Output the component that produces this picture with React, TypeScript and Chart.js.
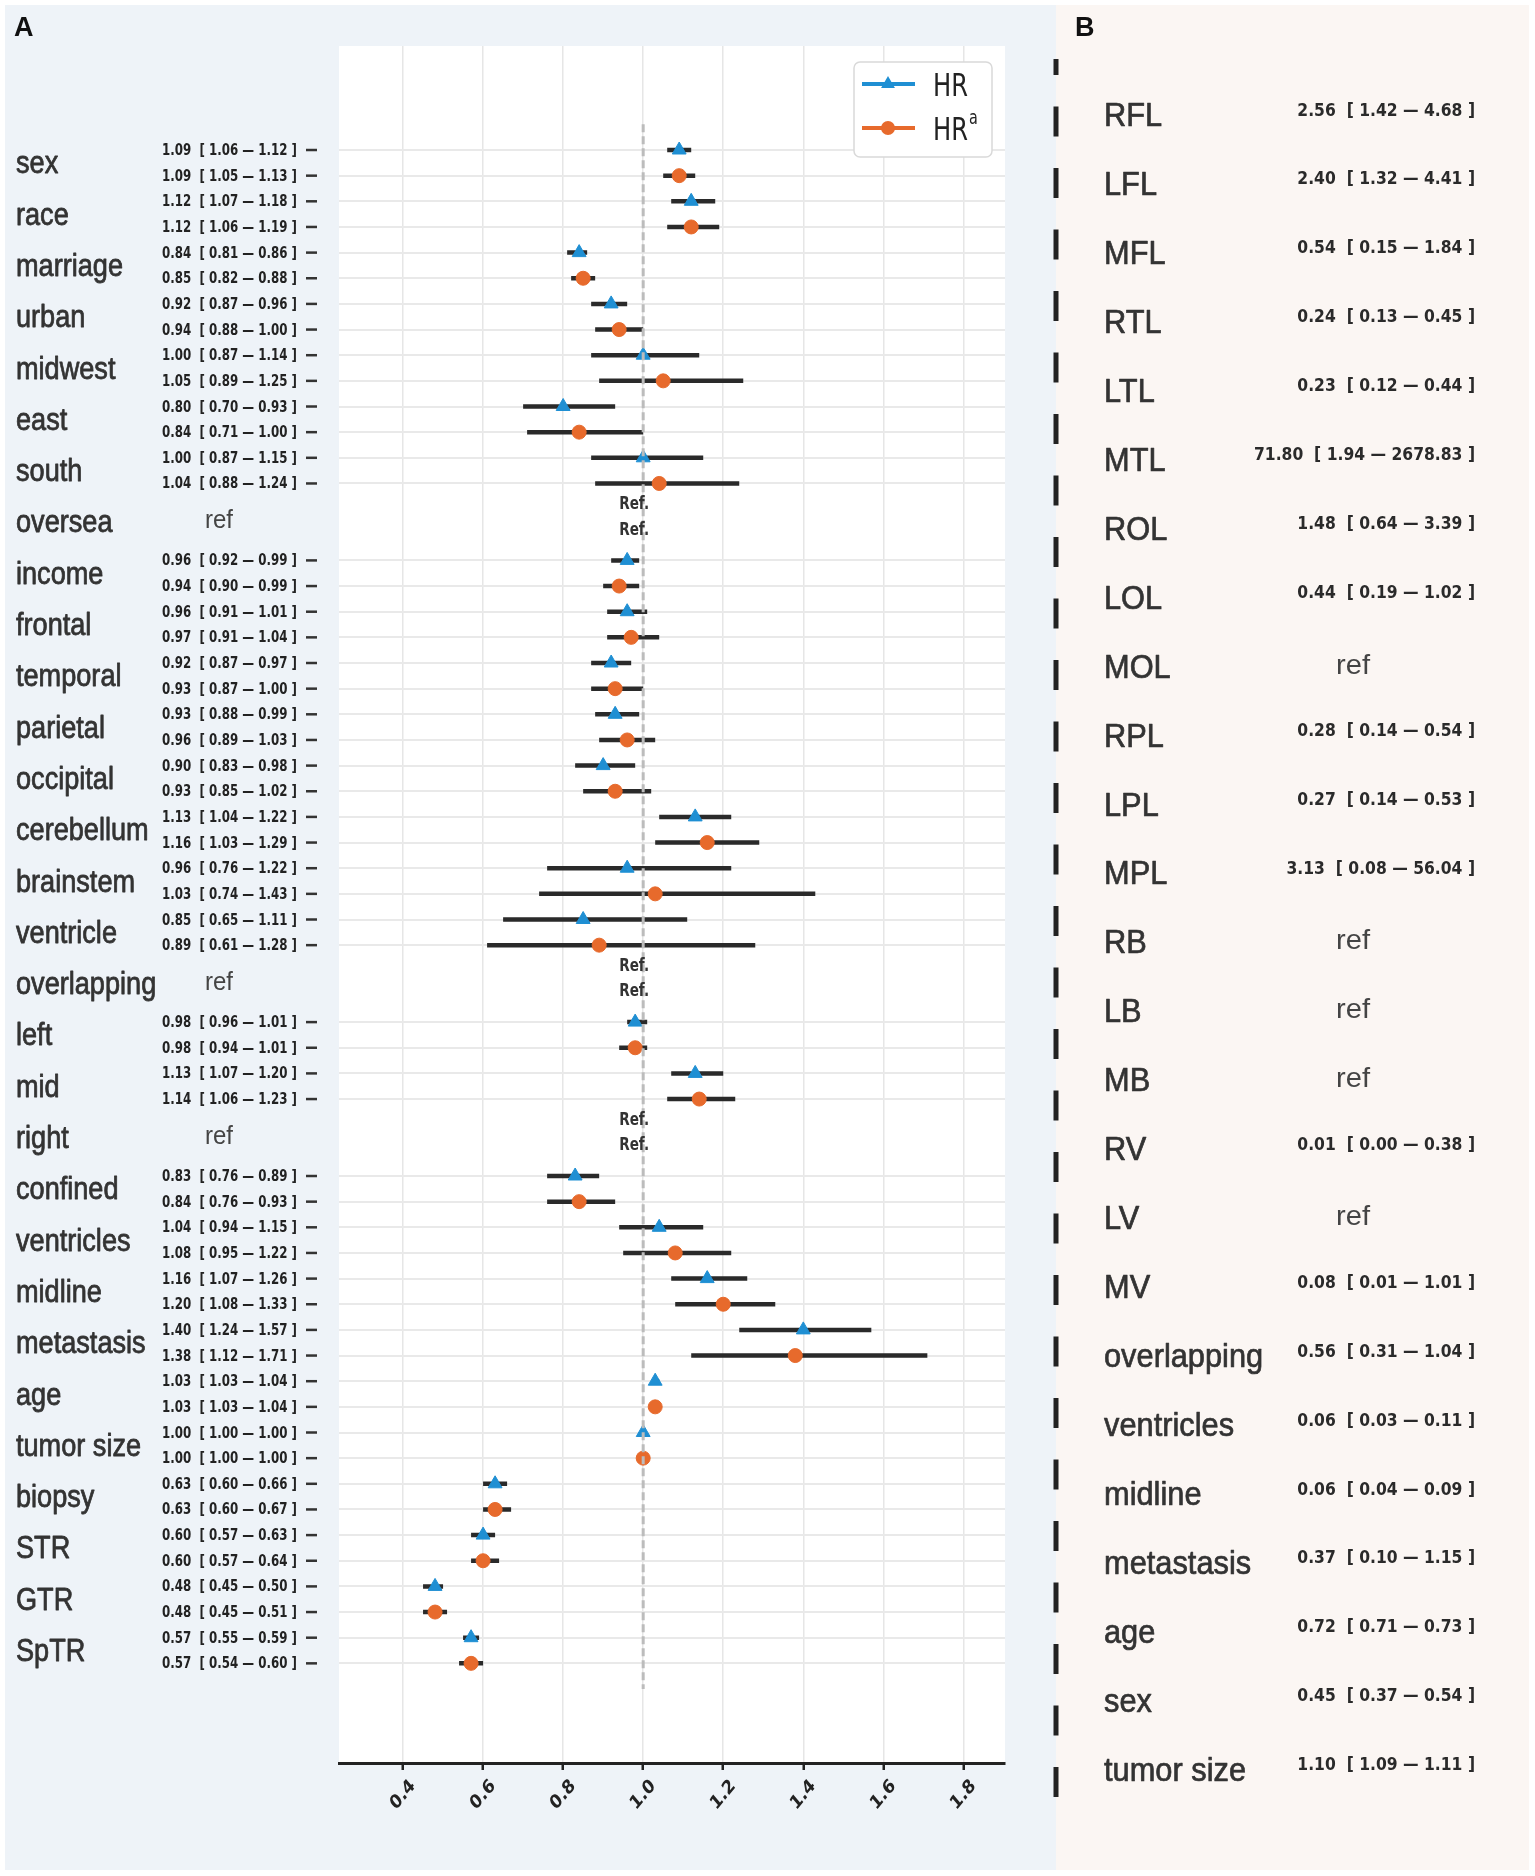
import React, { useEffect, useRef } from "react";
import { Chart, registerables } from "chart.js";
Chart.register(...registerables);

// ---------------- data: panel A ----------------
const GROUPS = ["sex", "race", "marriage", "urban", "midwest", "east", "south", "oversea", "income", "frontal", "temporal", "parietal", "occipital", "cerebellum", "brainstem", "ventricle", "overlapping", "left", "mid", "right", "confined", "ventricles", "midline", "metastasis", "age", "tumor size", "biopsy", "STR", "GTR", "SpTR"];
const HR = [1.09, 1.12, 0.84, 0.92, 1.0, 0.8, 1.0, null, 0.96, 0.96, 0.92, 0.93, 0.9, 1.13, 0.96, 0.85, null, 0.98, 1.13, null, 0.83, 1.04, 1.16, 1.4, 1.03, 1.0, 0.63, 0.6, 0.48, 0.57];
const HR_LO = [1.06, 1.07, 0.81, 0.87, 0.87, 0.7, 0.87, null, 0.92, 0.91, 0.87, 0.88, 0.83, 1.04, 0.76, 0.65, null, 0.96, 1.07, null, 0.76, 0.94, 1.07, 1.24, 1.03, 1.0, 0.6, 0.57, 0.45, 0.55];
const HR_HI = [1.12, 1.18, 0.86, 0.96, 1.14, 0.93, 1.15, null, 0.99, 1.01, 0.97, 0.99, 0.98, 1.22, 1.22, 1.11, null, 1.01, 1.2, null, 0.89, 1.15, 1.26, 1.57, 1.04, 1.0, 0.66, 0.63, 0.5, 0.59];
const HRA = [1.09, 1.12, 0.85, 0.94, 1.05, 0.84, 1.04, null, 0.94, 0.97, 0.93, 0.96, 0.93, 1.16, 1.03, 0.89, null, 0.98, 1.14, null, 0.84, 1.08, 1.2, 1.38, 1.03, 1.0, 0.63, 0.6, 0.48, 0.57];
const HRA_LO = [1.05, 1.06, 0.82, 0.88, 0.89, 0.71, 0.88, null, 0.9, 0.91, 0.87, 0.89, 0.85, 1.03, 0.74, 0.61, null, 0.94, 1.06, null, 0.76, 0.95, 1.08, 1.12, 1.03, 1.0, 0.6, 0.57, 0.45, 0.54];
const HRA_HI = [1.13, 1.19, 0.88, 1.0, 1.25, 1.0, 1.24, null, 0.99, 1.04, 1.0, 1.03, 1.02, 1.29, 1.43, 1.28, null, 1.01, 1.23, null, 0.93, 1.22, 1.33, 1.71, 1.04, 1.0, 0.67, 0.64, 0.51, 0.6];
const X_TICKS = [0.4, 0.6, 0.8, 1.0, 1.2, 1.4, 1.6, 1.8];
const REF_VALUE = 1.0;

// ---------------- data: panel B ----------------
const B_NAMES = ["RFL", "LFL", "MFL", "RTL", "LTL", "MTL", "ROL", "LOL", "MOL", "RPL", "LPL", "MPL", "RB", "LB", "MB", "RV", "LV", "MV", "overlapping", "ventricles", "midline", "metastasis", "age", "sex", "tumor size"];
const B_HR = [2.56, 2.4, 0.54, 0.24, 0.23, 71.8, 1.48, 0.44, null, 0.28, 0.27, 3.13, null, null, null, 0.01, null, 0.08, 0.56, 0.06, 0.06, 0.37, 0.72, 0.45, 1.1];
const B_LO = [1.42, 1.32, 0.15, 0.13, 0.12, 1.94, 0.64, 0.19, null, 0.14, 0.14, 0.08, null, null, null, 0.0, null, 0.01, 0.31, 0.03, 0.04, 0.1, 0.71, 0.37, 1.09];
const B_HI = [4.68, 4.41, 1.84, 0.45, 0.44, 2678.83, 3.39, 1.02, null, 0.54, 0.53, 56.04, null, null, null, 0.38, null, 1.01, 1.04, 0.11, 0.09, 1.15, 0.73, 0.54, 1.11];

// ---------------- style ----------------
const W = 1535;
const H = 1876;
const BLUE = "#1f8fd3";
const ORANGE = "#e76a2c";
const BAR = "#2a2a2a";
const BG_A = "#eef3f8";
const BG_B = "#fbf6f3";
const DV = "'DejaVu Sans', sans-serif";
const LS = "'Liberation Sans', Arial, sans-serif";

const fmt = (v: number, lo: number, hi: number) => `${v.toFixed(2)}  [ ${lo.toFixed(2)} \u2014 ${hi.toFixed(2)} ]`;

function measure(ctx: CanvasRenderingContext2D, font: string, s: string) {
  ctx.save();
  ctx.font = font;
  const w = ctx.measureText(s).width;
  ctx.restore();
  return w;
}
function fitSX(ctx: CanvasRenderingContext2D, font: string, sample: string, width: number) {
  const w = measure(ctx, font, sample);
  return w > 0 ? Math.min(1.3, Math.max(0.5, width / w)) : 1;
}
function put(ctx: CanvasRenderingContext2D, s: string, x: number, y: number, font: string, sx: number, align: string, color: string, stroke = 0) {
  ctx.save();
  ctx.font = font;
  ctx.fillStyle = color;
  ctx.textAlign = "left";
  ctx.textBaseline = "alphabetic";
  const w = ctx.measureText(s).width * sx;
  const x0 = align === "right" ? x - w : align === "center" ? x - w / 2 : x;
  ctx.translate(x0, y);
  ctx.scale(sx, 1);
  ctx.fillText(s, 0, 0);
  if (stroke > 0) {
    ctx.strokeStyle = color;
    ctx.lineWidth = stroke;
    ctx.lineJoin = "round";
    ctx.strokeText(s, 0, 0);
  }
  ctx.restore();
}
function triangle(ctx: CanvasRenderingContext2D, x: number, y: number, r: number) {
  let rad = 0;
  ctx.beginPath();
  ctx.moveTo(x + Math.sin(rad) * r, y - Math.cos(rad) * r);
  rad += (2 * Math.PI) / 3;
  ctx.lineTo(x + Math.sin(rad) * r, y - Math.cos(rad) * r);
  rad += (2 * Math.PI) / 3;
  ctx.lineTo(x + Math.sin(rad) * r, y - Math.cos(rad) * r);
  ctx.closePath();
  ctx.fill();
}

// row index helpers
const rowHR = (g: number) => 2 * g;
const rowHRA = (g: number) => 2 * g + 1;
const DATA_ROWS: number[] = [];
GROUPS.forEach((_, g) => {
  if (HR[g] !== null) DATA_ROWS.push(rowHR(g), rowHRA(g));
});

function buildA() {
  const hrPts: any[] = [];
  const hraPts: any[] = [];
  const ci: any[] = [];
  GROUPS.forEach((_, g) => {
    if (HR[g] === null) return;
    hrPts.push({ x: HR[g], y: rowHR(g) });
    hraPts.push({ x: HRA[g], y: rowHRA(g) });
    ci.push({ x: HR_LO[g], y: rowHR(g) }, { x: HR_HI[g], y: rowHR(g) }, { x: null, y: null });
    ci.push({ x: HRA_LO[g], y: rowHRA(g) }, { x: HRA_HI[g], y: rowHRA(g) }, { x: null, y: null });
  });
  const nRows = GROUPS.length * 2;
  const refLine = [
    { x: REF_VALUE, y: -1 },
    { x: REF_VALUE, y: nRows },
  ];

  const plugin = {
    id: "panelA",
    beforeDraw(chart: any) {
      const { ctx, chartArea: ca } = chart;
      ctx.save();
      ctx.fillStyle = BG_A;
      ctx.fillRect(5, 5, 1051, 1865);
      ctx.fillStyle = BG_B;
      ctx.fillRect(1056, 5, 473, 1865);
      ctx.fillStyle = "#ffffff";
      ctx.fillRect(ca.left, ca.top, ca.right - ca.left, ca.bottom - ca.top);
      ctx.restore();
    },
    afterDraw(chart: any) {
      const ctx: CanvasRenderingContext2D = chart.ctx;
      const ys = chart.scales.y;
      const xs = chart.scales.x;
      const fVal = `bold 15px ${DV}`;
      const sxVal = fitSX(ctx, fVal, fmt(1.09, 1.06, 1.12), 135);
      const fGrp = `32px ${LS}`;
      const sxGrp = fitSX(ctx, fGrp, "marriage", 107);
      const fRefA = `25px ${LS}`;
      const sxRefA = fitSX(ctx, fRefA, "ref", 28);
      const fRef = `bold 17px ${DV}`;
      const sxRef = fitSX(ctx, fRef, "Ref.", 30);

      // panel letter
      put(ctx, "A", 14, 36, `bold 27px ${LS}`, 1, "left", "#111");

      GROUPS.forEach((name, g) => {
        const y1 = ys.getPixelForValue(rowHR(g));
        const y2 = ys.getPixelForValue(rowHRA(g));
        const mid = (y1 + y2) / 2;
        put(ctx, name, 16, mid + 10.5, fGrp, sxGrp, "left", "#333", 0.8);
        if (HR[g] === null) {
          put(ctx, "ref", 205, mid + 6.5, fRefA, sxRefA, "left", "#444");
          const rx = xs.getPixelForValue(REF_VALUE) + 6;
          put(ctx, "Ref.", rx, y1, fRef, sxRef, "right", "#333");
          put(ctx, "Ref.", rx, y2, fRef, sxRef, "right", "#333");
          return;
        }
        const rows: [number, number, number, number][] = [
          [y1, HR[g] as number, HR_LO[g] as number, HR_HI[g] as number],
          [y2, HRA[g] as number, HRA_LO[g] as number, HRA_HI[g] as number],
        ];
        rows.forEach(([y, v, lo, hi]) => {
          put(ctx, fmt(v, lo, hi), 297, y + 5.0, fVal, sxVal, "right", "#222");
          ctx.save();
          ctx.strokeStyle = "#333";
          ctx.lineWidth = 2.5;
          ctx.beginPath();
          ctx.moveTo(306, y);
          ctx.lineTo(317, y);
          ctx.stroke();
          ctx.restore();
        });
      });

      // x tick labels (rotated)
      X_TICKS.forEach((v) => {
        const px = xs.getPixelForValue(v);
        ctx.save();
        ctx.translate(px, 1795);
        ctx.scale(0.84, 1);
        ctx.rotate(-Math.PI / 4);
        ctx.font = `bold 19px ${DV}`;
        ctx.fillStyle = "#222";
        ctx.textAlign = "center";
        ctx.textBaseline = "middle";
        ctx.fillText(v.toFixed(1), 0, 0);
        ctx.restore();
      });

      // legend
      const bx = 854, by = 62, bw = 138, bh = 95;
      ctx.save();
      ctx.fillStyle = "#ffffff";
      ctx.strokeStyle = "#d9d9d9";
      ctx.lineWidth = 1.5;
      ctx.beginPath();
      (ctx as any).roundRect ? (ctx as any).roundRect(bx, by, bw, bh, 6) : ctx.rect(bx, by, bw, bh);
      ctx.fill();
      ctx.stroke();
      const ly = [84, 128];
      const cols = [BLUE, ORANGE];
      ly.forEach((yy, k) => {
        ctx.strokeStyle = cols[k];
        ctx.lineWidth = 4;
        ctx.beginPath();
        ctx.moveTo(862, yy);
        ctx.lineTo(915, yy);
        ctx.stroke();
        ctx.fillStyle = cols[k];
        if (k === 0) triangle(ctx, 888, yy, 8);
        else {
          ctx.beginPath();
          ctx.arc(888, yy, 7, 0, Math.PI * 2);
          ctx.fill();
        }
      });
      ctx.restore();
      const fLeg = `32px ${DV}`;
      const sxLeg = fitSX(ctx, fLeg, "HR", 35);
      put(ctx, "HR", 933, 96, fLeg, sxLeg, "left", "#222");
      put(ctx, "HR", 933, 140, fLeg, sxLeg, "left", "#222");
      put(ctx, "a", 933 + measure(ctx, fLeg, "HR") * sxLeg + 1, 124, `19px ${DV}`, sxLeg, "left", "#222");
    },
  };

  return {
    type: "scatter" as const,
    data: {
      datasets: [
        {
          label: "ref",
          data: refLine,
          showLine: true,
          borderColor: "#bcbcbc",
          borderWidth: 3,
          borderDash: [8, 4],
          pointRadius: 0,
        },
        {
          label: "HR",
          data: hrPts,
          pointStyle: "triangle",
          pointRadius: 8,
          backgroundColor: BLUE,
          borderColor: BLUE,
          borderWidth: 1,
        },
        {
          label: "HRa",
          data: hraPts,
          pointStyle: "circle",
          pointRadius: 7,
          backgroundColor: ORANGE,
          borderColor: ORANGE,
          borderWidth: 1,
        },
        {
          label: "CI",
          data: ci,
          showLine: true,
          spanGaps: false,
          borderColor: BAR,
          borderWidth: 4.5,
          pointRadius: 0,
        },
      ],
    },
    options: {
      responsive: false,
      animation: false,
      events: [],
      layout: { padding: { left: 339, right: W - 1005, top: 46, bottom: H - 1763 - 10 } },
      plugins: { legend: { display: false }, tooltip: { enabled: false } },
      scales: {
        x: {
          type: "linear",
          min: 0.24,
          max: 1.904,
          afterBuildTicks: (s: any) => {
            s.ticks = X_TICKS.map((v) => ({ value: v }));
          },
          afterFit: (s: any) => {
            s.height = 10;
          },
          ticks: { display: false },
          grid: { color: "#e6e6e6", lineWidth: 1.5, drawTicks: true, tickLength: 7, tickColor: "#222", tickWidth: 2.5 },
          border: { display: true, color: "#222", width: 3 },
        },
        y: {
          type: "linear",
          reverse: true,
          min: -4.055,
          max: 62.885,
          afterBuildTicks: (s: any) => {
            s.ticks = DATA_ROWS.map((v) => ({ value: v }));
          },
          afterFit: (s: any) => {
            s.width = 0;
          },
          ticks: { display: false },
          grid: { color: "#e9e9e9", lineWidth: 2, drawTicks: false },
          border: { display: false },
        },
      },
    },
    plugins: [plugin],
  };
}

// panel B geometry
const B_LEFT = 1046;
const B_RIGHT = 1529;
const B_TOP = 59;
const B_BOTTOM = 1807;
const B_ROW0 = 115;
const B_STEP = 68.95;

function buildB() {
  const yMin = (B_TOP - B_ROW0) / B_STEP;
  const yMax = (B_BOTTOM - B_ROW0) / B_STEP;
  const sepX = (1056 - B_LEFT) / (B_RIGHT - B_LEFT);
  const plugin = {
    id: "panelB",
    afterDraw(chart: any) {
      const ctx: CanvasRenderingContext2D = chart.ctx;
      const ys = chart.scales.y;
      put(ctx, "B", 1075, 36, `bold 27px ${LS}`, 1, "left", "#111");
      const fName = `33px ${LS}`;
      const sxName = fitSX(ctx, fName, "tumor size", 142);
      const fVal = `bold 18px ${DV}`;
      const sxVal = fitSX(ctx, fVal, fmt(71.8, 1.94, 2678.83), 221);
      const fRef = `28px ${LS}`;
      const sxRef = fitSX(ctx, fRef, "ref", 34);
      B_NAMES.forEach((name, i) => {
        const y = ys.getPixelForValue(i);
        put(ctx, name, 1104, y + 11, fName, sxName, "left", "#333", 0.7);
        if (B_HR[i] === null) {
          put(ctx, "ref", 1336, y + 7, fRef, sxRef, "left", "#444");
        } else {
          put(ctx, fmt(B_HR[i] as number, B_LO[i] as number, B_HI[i] as number), 1475, y + 0.5, fVal, sxVal, "right", "#2a2a2a");
        }
      });
    },
  };
  return {
    type: "scatter" as const,
    data: {
      datasets: [
        {
          label: "separator",
          data: [
            { x: sepX, y: yMin },
            { x: sepX, y: yMax },
          ],
          showLine: true,
          borderColor: "#222",
          borderWidth: 5,
          borderDash: [30, 31.5],
          borderDashOffset: 14,
          pointRadius: 0,
        },
      ],
    },
    options: {
      responsive: false,
      animation: false,
      events: [],
      layout: { padding: { left: B_LEFT, right: W - B_RIGHT, top: B_TOP, bottom: H - B_BOTTOM } },
      plugins: { legend: { display: false }, tooltip: { enabled: false } },
      scales: {
        x: { type: "linear", min: 0, max: 1, display: false },
        y: { type: "linear", reverse: true, min: yMin, max: yMax, display: false },
      },
    },
    plugins: [plugin],
  };
}

export default function App() {
  const refA = useRef<HTMLCanvasElement>(null);
  const refB = useRef<HTMLCanvasElement>(null);
  useEffect(() => {
    let a: Chart | null = null;
    let b: Chart | null = null;
    let cancelled = false;
    const make = () => {
      if (cancelled || !refA.current || !refB.current) return;
      a = new Chart(refA.current, buildA() as any);
      b = new Chart(refB.current, buildB() as any);
    };
    const fonts: any = (document as any).fonts;
    if (fonts && fonts.load) {
      Promise.all([
        fonts.load(`bold 14px ${DV}`),
        fonts.load(`14px ${DV}`),
        fonts.load(`28px ${LS}`),
        fonts.load(`bold 27px ${LS}`),
      ])
        .catch(() => null)
        .then(make);
    } else make();
    return () => {
      cancelled = true;
      if (a) a.destroy();
      if (b) b.destroy();
    };
  }, []);
  return (
    <div style={{ position: "absolute", left: 0, top: 0, width: W, height: H, background: "#ffffff" }}>
      <canvas ref={refA} width={W} height={H} style={{ position: "absolute", left: 0, top: 0, width: W, height: H }} />
      <canvas ref={refB} width={W} height={H} style={{ position: "absolute", left: 0, top: 0, width: W, height: H }} />
    </div>
  );
}
